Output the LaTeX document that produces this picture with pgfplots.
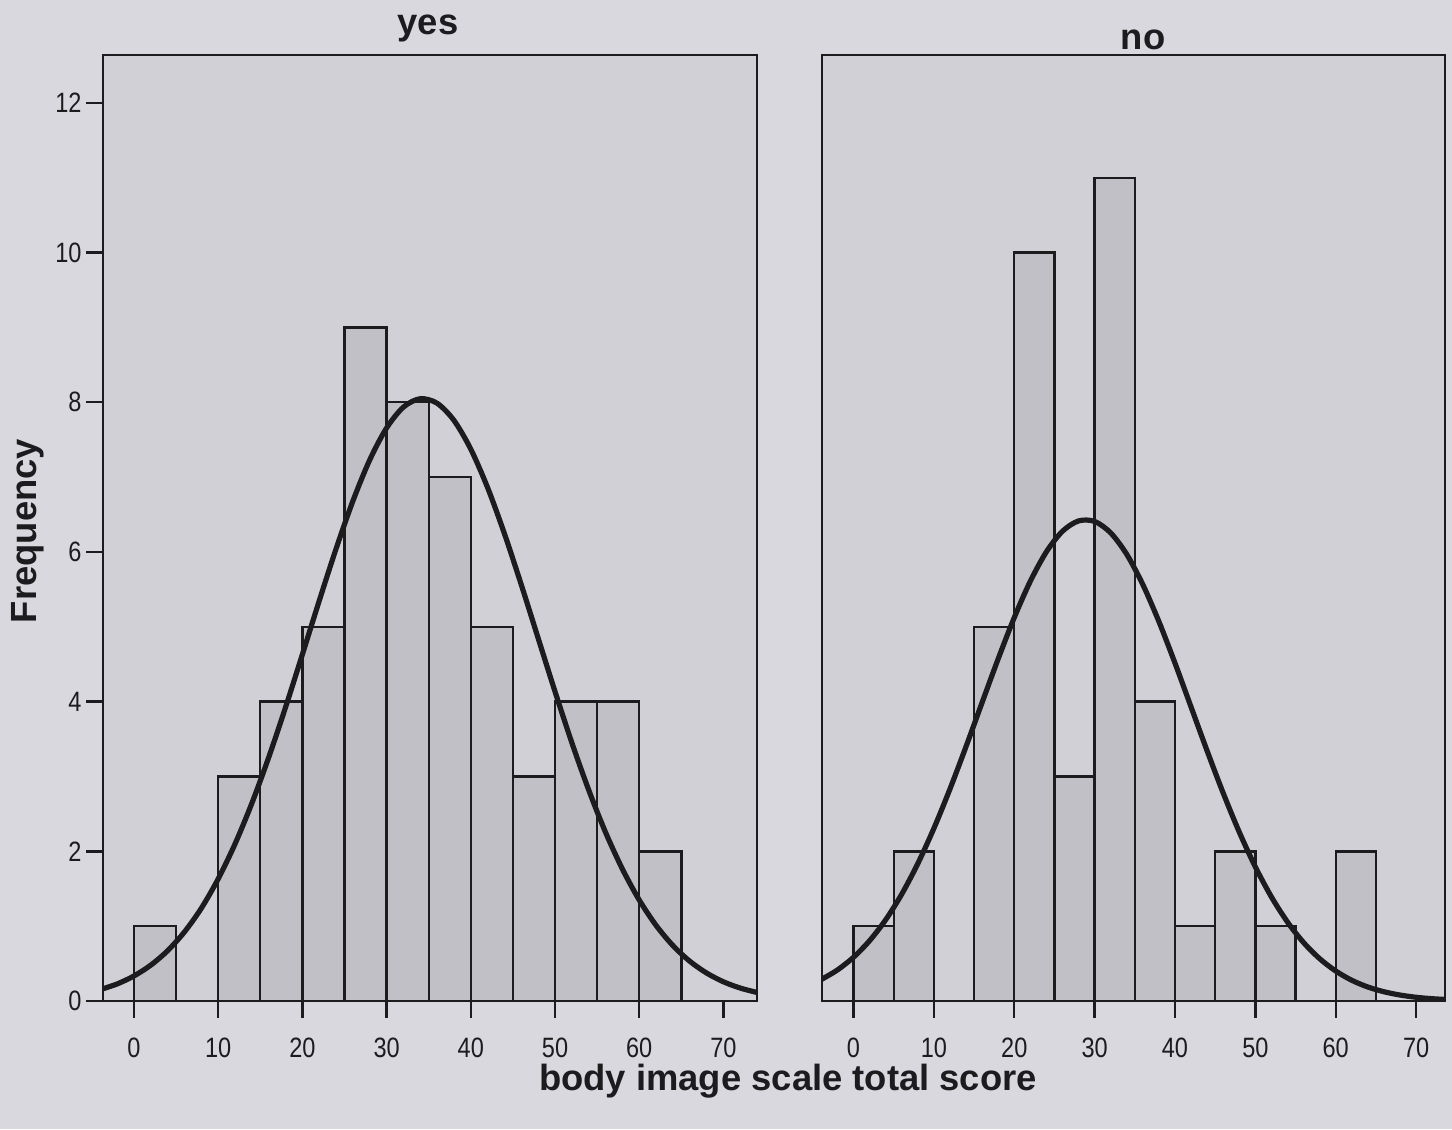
\documentclass[border=0pt]{standalone}
\usepackage{pgfplots}
\pgfplotsset{compat=1.18}
\usepackage{fontspec}
\setmainfont{Liberation Sans}
\definecolor{pagebg}{RGB}{218,216,223}
\definecolor{plotbg}{RGB}{210,208,215}
\definecolor{barfill}{RGB}{194,192,199}
\definecolor{ink}{RGB}{28,28,30}
\begin{document}
\begin{tikzpicture}[x=1pt,y=1pt]
\path[use as bounding box] (0,0) rectangle (363,282.25);
\fill[pagebg] (0,0) rectangle (363,282.25);
\pgfplotsset{
  panel/.style={
    scale only axis, height=236.5pt, ymin=0, ymax=12.64,
    axis background/.style={fill=plotbg},
    axis line style={ink, line width=0.6pt},
    every tick/.style={ink, line width=0.6pt},
    xtick={0,10,...,70},
    tick align=outside, major tick length=4.2pt,
    xtick pos=bottom, ytick pos=left,
    /pgf/number format/assume math mode=true,
    ticklabel style={font=\fontsize{7}{8}\selectfont, text=ink, xscale=0.84},
    xticklabel style={yshift=-1.4pt},
    yticklabel style={inner sep=1.2pt},
  }
}
\begin{axis}[panel, at={(25.75pt,32pt)}, anchor=south west, width=163.5pt,
  xmin=-3.68, xmax=73.99, ytick={0,2,...,12}]
\addplot[ybar interval, fill=barfill, draw=ink, line width=0.6pt] coordinates {
 (0,1)(5,0)(10,3)(15,4)(20,5)(25,9)(30,8)(35,7)(40,5)(45,3)(50,4)(55,4)(60,2)(65,0)};
\addplot[ink, line width=1.3pt, smooth] coordinates {
 (-4,0.153)(-2,0.228)(0,0.335)(2,0.480)(4,0.673)(6,0.924)(8,1.240)(10,1.632)
 (12,2.099)(14,2.643)(16,3.256)(18,3.925)(20,4.632)(22,5.348)(24,6.043)(26,6.682)
 (28,7.231)(30,7.657)(32,7.936)(34,8.048)(36,7.987)(38,7.758)(40,7.373)(42,6.858)
 (44,6.242)(46,5.560)(48,4.847)(50,4.135)(52,3.451)(54,2.820)(56,2.254)(58,1.764)
 (60,1.350)(62,1.011)(64,0.741)(66,0.532)(68,0.374)(70,0.257)(72,0.173)(74,0.114)};
\end{axis}
\begin{axis}[panel, at={(205.5pt,32pt)}, anchor=south west, width=155.75pt,
  xmin=-3.92, xmax=73.6, ytick=\empty]
\addplot[ybar interval, fill=barfill, draw=ink, line width=0.6pt] coordinates {
 (0,1)(5,2)(10,0)(15,5)(20,10)(25,3)(30,11)(35,4)(40,1)(45,2)(50,1)(55,0)(60,2)(65,0)};
\addplot[ink, line width=1.3pt, smooth] coordinates {
 (-4,0.288)(-2,0.415)(0,0.585)(2,0.806)(4,1.085)(6,1.428)(8,1.836)(10,2.307)
 (12,2.833)(14,3.400)(16,3.989)(18,4.572)(20,5.123)(22,5.609)(24,6.002)(26,6.277)
 (28,6.415)(30,6.408)(32,6.255)(34,5.968)(36,5.564)(38,5.070)(40,4.515)(42,3.929)
 (44,3.342)(46,2.778)(48,2.257)(50,1.792)(52,1.391)(54,1.055)(56,0.781)(58,0.566)
 (60,0.401)(62,0.277)(64,0.187)(66,0.124)(68,0.080)(70,0.050)(72,0.031)(74,0.019)};
\end{axis}
\node[font=\bfseries\fontsize{9.1}{10}\selectfont, text=ink] at (107,275.25) {yes};
\node[font=\bfseries\fontsize{9.1}{10}\selectfont, text=ink] at (285.75,272.25) {no};
\node[rotate=90, font=\bfseries\fontsize{9.1}{10}\selectfont, text=ink] at (6.9,149.5) {Frequency};
\node[font=\bfseries\fontsize{9.1}{10}\selectfont, text=ink] at (197,11.9) {body image scale total score};
\end{tikzpicture}
\end{document}
